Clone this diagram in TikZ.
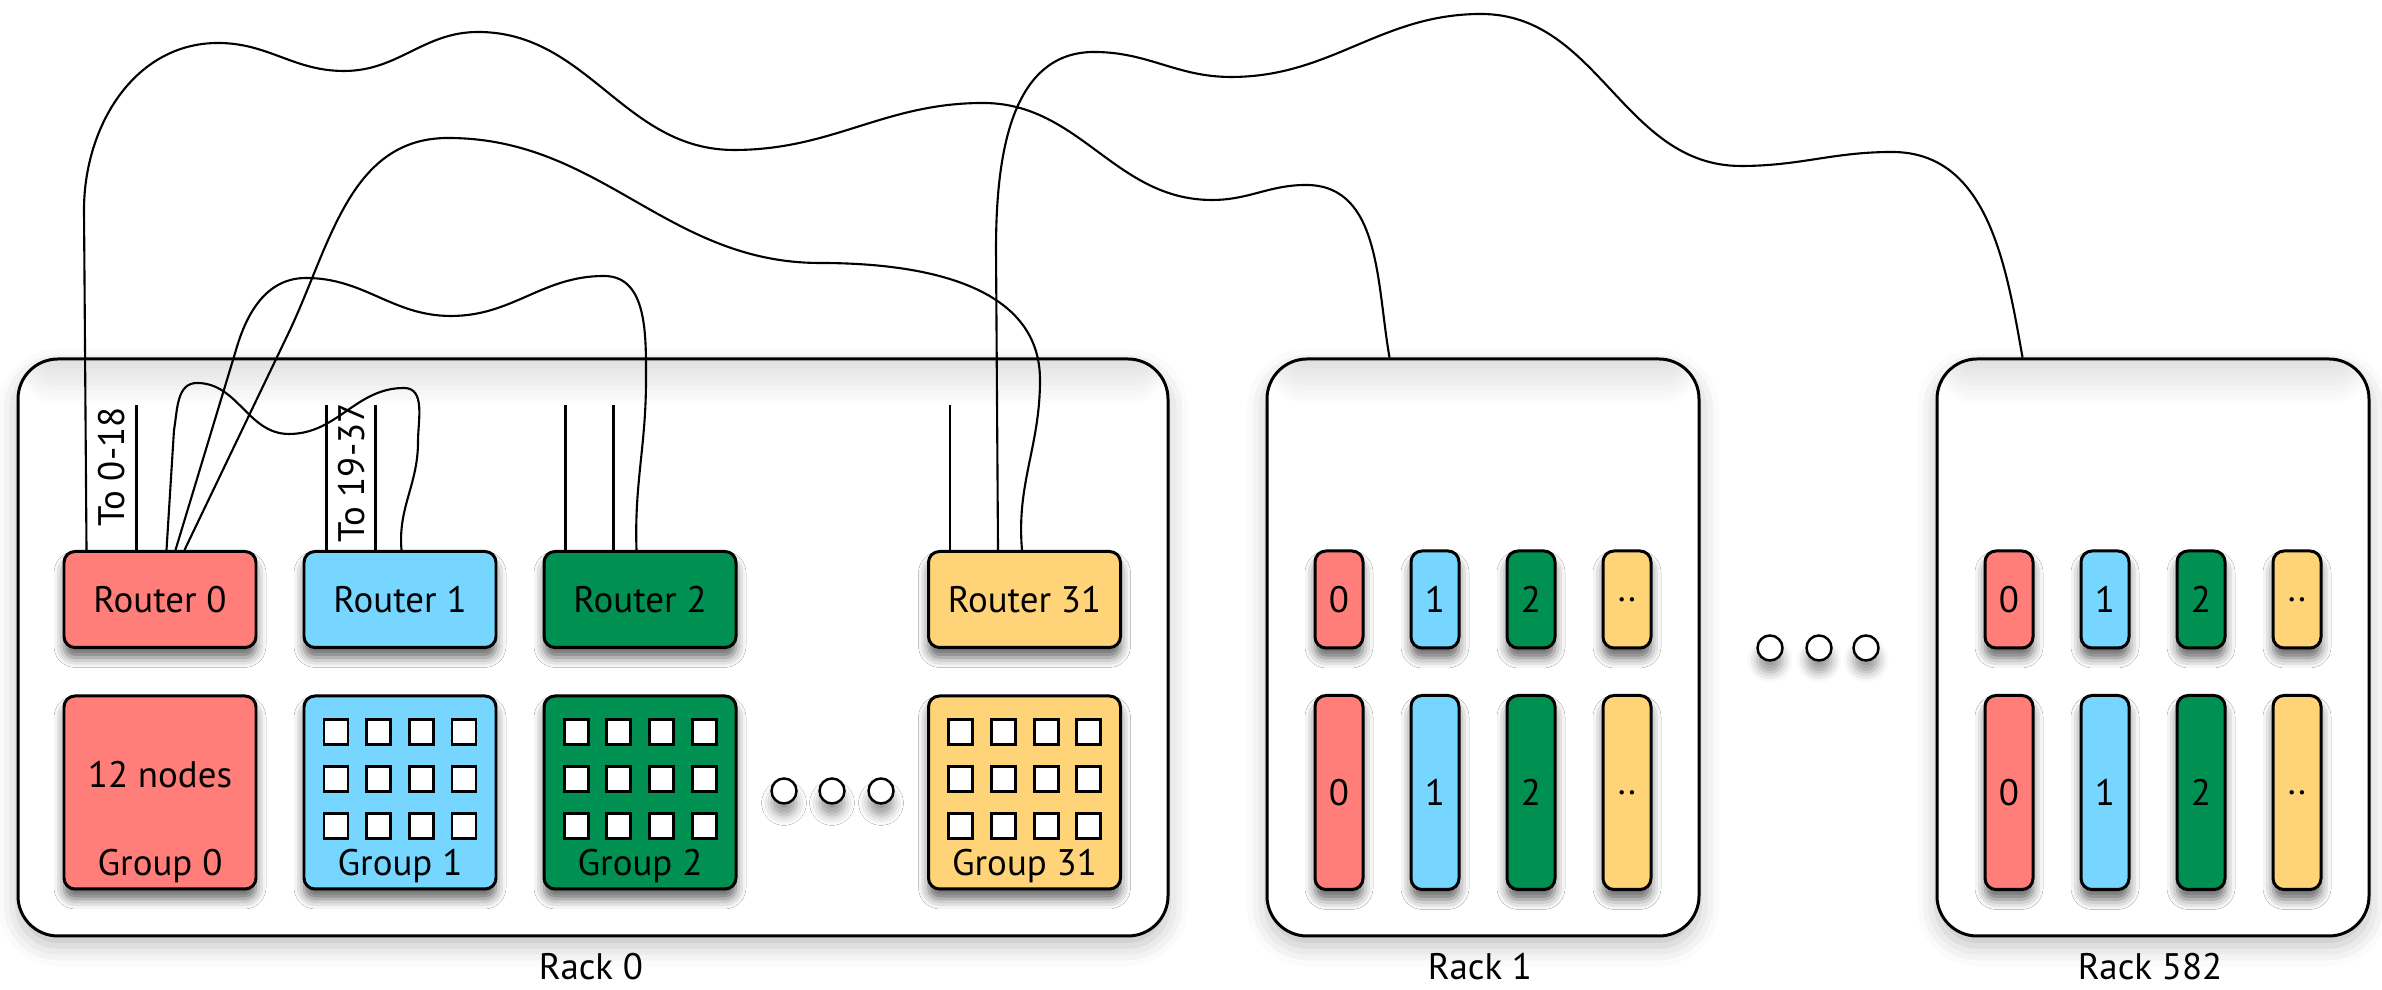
\documentclass[tikz,border=0pt]{standalone}
\usepackage{fontspec}
\setmainfont{PT Sans}
\usetikzlibrary{shadows.blur,calc}
\definecolor{salmon}{HTML}{FF7E79}
\definecolor{sky}{HTML}{76D6FF}
\definecolor{moss}{HTML}{009051}
\definecolor{cantaloupe}{HTML}{FFD479}
\begin{document}
\begin{tikzpicture}[x=0.1mm, y=0.1mm, font=\fontsize{10.5}{12}\selectfont,
    wire/.style={line width=0.6pt},
    rack/.style={draw, line width=0.85pt, fill=white, rounded corners=4mm,
      minimum width=#1, minimum height=57.7mm,
      blur shadow={shadow xshift=0pt, shadow yshift=-1mm, shadow blur radius=2mm, shadow opacity=25},
      path picture={\foreach \k in {1,...,10}
        \fill[black, opacity=.012] (path picture bounding box.north west)
          rectangle ([yshift=-\k*0.45mm]path picture bounding box.north east);}},
    tile/.style={draw, line width=0.85pt, rounded corners=1.1mm, minimum width=19.2mm, fill=#1,
      blur shadow={shadow xshift=0pt, shadow yshift=-1mm, shadow blur radius=1mm, shadow opacity=60}},
    router/.style={tile=#1, minimum height=9.6mm},
    group/.style={tile=#1, minimum height=19.3mm},
    bar/.style={tile=#1, minimum width=4.8mm, minimum height=9.7mm, inner sep=0pt},
    tallbar/.style={bar=#1, minimum height=19.4mm},
    slot/.style={draw, line width=0.85pt, fill=white, minimum width=2.4mm, minimum height=2.5mm, inner sep=0pt},
    dot/.style={circle, draw, line width=0.7pt, fill=white, minimum size=2.5mm, inner sep=0pt,
      blur shadow={shadow xshift=0pt, shadow yshift=-1.2mm, shadow blur radius=1mm, shadow opacity=40}}]
  \useasboundingbox (0,0) rectangle (2382,990);

  % Racks
  \node[rack=115mm] (rack0) at (593,342.5) {};
  \node[rack=43.2mm] (rack1) at (1483,342.5) {};
  \node[rack=43.2mm] (rack582) at (2153,342.5) {};
  \node[anchor=base] (lrack0) at (591,10) {Rack 0};
  \node[anchor=base] (lrack1) at (1480,10) {Rack 1};
  \node[anchor=base] (lrack582) at (2150,10) {Rack 582};

  % Routers and groups of rack 0
  \foreach \n/\x/\c in {0/160/salmon, 1/400/sky, 2/640/moss, 31/1024.5/cantaloupe} {
    \node[router=\c] (r\n) at (\x,390.5) {Router \n};
    \node[group=\c] (g\n) at (\x,197.5) {};
    \node[anchor=base] (lg\n) at ($(g\n.south)+(0,15)$) {Group \n};
  }
  \node[anchor=base] (nodes0) at (160,202) {12 nodes};
  \foreach \n in {1,2,31}
    \foreach \i in {-64,-21.5,21.5,64}
      \foreach \j in {47,0,-47}
        \node[slot] (s\n-\i-\j) at ($(g\n)+(\i,\j+13.5)$) {};
  \foreach \x in {784,832,881}
    \node[dot] (d\x) at (\x,199) {};

  % Other racks
  \foreach \r/\cx in {1/1483, 582/2153}
    \foreach \k/\dx/\c/\t in {0/-144/salmon/0, 1/-48/sky/1, 2/48/moss/2, 3/144/cantaloupe/..} {
      \node[bar=\c] (b\r-\k) at (\cx+\dx,390.5) {\t};
      \node[tallbar=\c] (t\r-\k) at (\cx+\dx,197.5) {\t};
    }
  \foreach \x in {1770,1819,1866}
    \node[dot] (d\x) at (\x,342) {};

  % Stubs
  \foreach \n/\x in {r0/74, r1/24, r1/73, r2/23, r2/71, r31/23} {
    \coordinate (e\n\x) at ($(\n.north west)+(\x,144.5)$);
    \draw[wire] (e\n\x) -- (e\n\x |- \n.north);
  }
  \node[rotate=90] (to0) at (112,523) {To 0-18};
  \node[rotate=90] (to1) at (352,517) {To 19-37};

  % Cables
  \coordinate (pa) at ($(r0.north west)+(24,0)$);
  \coordinate (pl) at ($(r0.north west)+(104,0)$);
  \coordinate (pc) at ($(r0.north west)+(113,0)$);
  \coordinate (pb) at ($(r0.north west)+(122,0)$);
  \coordinate (ql) at ($(r1.north west)+(99,0)$);
  \coordinate (qc) at ($(r2.north west)+(94,0)$);
  \coordinate (pd) at ($(r31.north west)+(71,0)$);
  \coordinate (qb) at ($(r31.north west)+(95,0)$);
  \coordinate (ka) at ($(rack1.north west)+(124,0)$);
  \coordinate (kd) at ($(rack582.north west)+(87,0)$);

  \draw[wire] (pa) -- (84,780) to[out=90,in=180] (218,947) to[out=0,in=180] (344,919)
    to[out=0,in=180] (478,958) to[out=0,in=180] (734,840) to[out=0,in=180] (983,887)
    to[out=0,in=180] (1212,790) to[out=0,in=180] (1306,805) to[out=0,in=100] (ka);
  \draw[wire] (pd) -- (996,740) to[out=90,in=180] (1094,938) to[out=0,in=180] (1231,913)
    to[out=0,in=180] (1481,976) to[out=0,in=180] (1741,824) to[out=0,in=180] (1892,838)
    to[out=0,in=100] (kd);
  \draw[wire] (pb) -- (290,660) to[out=65,in=180] (448,852) to[out=0,in=180] (820,727)
    to[out=0,in=90] (1040,610) to[out=-90,in=95] (qb);
  \draw[wire] (pc) -- (236,640) to[out=74,in=180] (306,712) to[out=0,in=180] (451,674)
    to[out=0,in=180] (604,714) to[out=0,in=90] (646,610) to[out=-90,in=92] (qc);
  \draw[wire] (pl) -- (174,560) to[out=80,in=180] (197,607) to[out=0,in=180] (289,556)
    to[out=0,in=180] (404,602) to[out=0,in=90] (418,548) to[out=-90,in=95] (ql);
\end{tikzpicture}
\end{document}
